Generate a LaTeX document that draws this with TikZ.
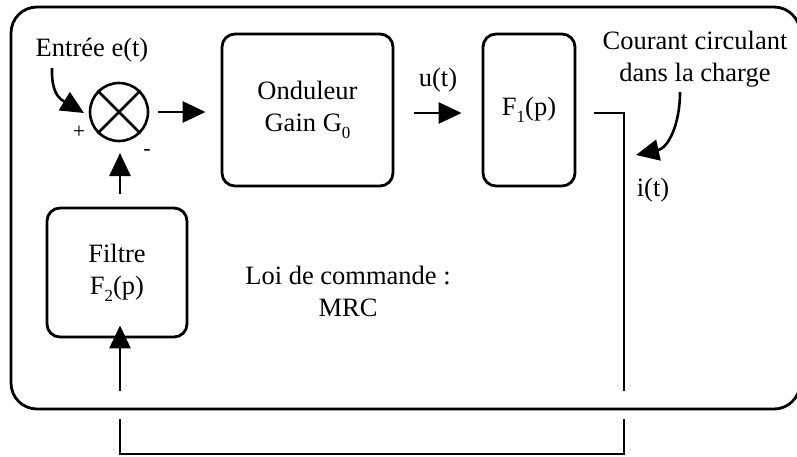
\documentclass[tikz,border=0pt]{standalone}
\usepackage{fontspec}
\setmainfont{Liberation Serif}
\usetikzlibrary{arrows.meta}
\newcommand{\lowsub}[1]{\raisebox{-7pt}{\fontsize{17}{17}\selectfont #1}}
\begin{document}
\begin{tikzpicture}[x=1pt,y=-1pt,
  every node/.style={font=\fontsize{26.5}{32}\selectfont},
  blockbox/.style={draw, line width=2.8pt, rounded corners=13pt, align=center, inner sep=0pt},
  lbl/.style={align=center, inner sep=0pt},
  signlbl/.style={inner sep=0pt, font=\fontsize{22}{22}\selectfont},
  conn/.style={line width=2.6pt},
  arr/.style={conn, -{Triangle[length=23pt,width=21pt]}},
]
\useasboundingbox (0,0) rectangle (797,456);
% outer frame
\draw[line width=2.8pt, rounded corners=26pt] (11,7) rectangle (800,409);

% blocks
\node[blockbox, minimum width=171pt, minimum height=152pt] (ond) at (307.5,110) {Onduleur\\Gain G\lowsub{0}};
\node[blockbox, minimum width=92pt, minimum height=152pt] (f1) at (529,110) {F\lowsub{1}(p)};
\node[blockbox, minimum width=140pt, minimum height=129pt] (filt) at (117,272.5) {Filtre\\F\lowsub{2}(p)};

% summing junction
\node[draw, circle, line width=2.6pt, minimum size=58pt, inner sep=0pt] (sum) at (119,112) {};
\draw[conn] (sum.north west) -- (sum.south east);
\draw[conn] (sum.north east) -- (sum.south west);

% labels
\node[lbl] (ent) at (92,50) {Entrée e(t)};
\node[signlbl] (plus) at (79,132) {+};
\node[signlbl] (minus) at (147,152) {-};
\node[lbl] (ut) at (438,80) {u(t)};
\node[lbl] (cour) at (695,59) {Courant circulant\\dans la charge};
\node[lbl] (it) at (653,190) {i(t)};
\node[lbl] (loi) at (348,291) {Loi de commande :\\MRC};

% coordinates for the loop
\coordinate (e0) at (52,68);
\coordinate (e1) at (84,113);
\coordinate (k0) at (680,92);
\coordinate (k1) at (636,155);
\coordinate (c1) at (624,113);
\coordinate (c2) at (624,391);
\coordinate (c3) at (624,419);
\coordinate (c4) at (624,454);
\coordinate (c5) at (120,454);
\coordinate (c6) at (120,419);
\coordinate (c7) at (120,391);
\coordinate (c8) at (120,194);

% connectors
\draw[arr] (sum.east) ++(9,0) -- ([xshift=-15pt]ond.west |- sum.east);
\draw[arr] ([xshift=20pt]ond.east |- c1) -- ([xshift=-20pt]f1.west |- c1);
\draw[conn] ([xshift=18pt]f1.east |- c1) -- (c1) -- (c2);
\draw[conn] (c3) -- (c4) -- (c5) -- (c6);
\draw[arr] (c7) -- ([yshift=13pt]c7 |- filt.south);
\draw[arr] (c8) -- (120,153);
\draw[arr] (e0) .. controls (51,98) and (64,101) .. (e1);
\draw[arr] (k0) .. controls (680,125) and (668,148) .. (k1);
\end{tikzpicture}
\end{document}
